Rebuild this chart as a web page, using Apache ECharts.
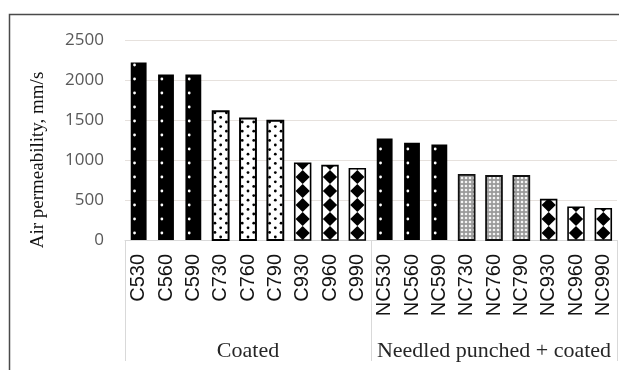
<!DOCTYPE html>
<html>
<head>
<meta charset="utf-8">
<script src="https://cdn.jsdelivr.net/npm/echarts@6/dist/echarts.min.js"></script>
<style>
  html, body { margin: 0; padding: 0; background: #fff; }
  #chart { width: 619px; height: 370px; }
</style>
</head>
<body>
<div id="chart"></div>
<script>
// Sample names and measured air permeability (mm/s)
const categories = ['C530', 'C560', 'C590', 'C730', 'C760', 'C790', 'C930', 'C960', 'C990',
                    'NC530', 'NC560', 'NC590', 'NC730', 'NC760', 'NC790', 'NC930', 'NC960', 'NC990'];
const permeability = [2220, 2070, 2070, 1610, 1520, 1490, 960, 930, 890,
                      1270, 1215, 1195, 815, 800, 800, 505, 410, 390];
const groups = ['Coated', 'Needled punched + coated'];
const yMin = 0, yMax = 2500, yStep = 500;

// Fill style per sample: solid (x30), dotted (x60 coated), fine (x60 needled), diamond (x90)
function fillKind(i) {
  const sub = Math.floor((i % 9) / 3);
  if (sub === 0) return 'solid';
  if (sub === 2) return 'diamond';
  return i < 9 ? 'dots' : 'fine';
}

// Fine speckled texture for the needled x60 bars
const fineCanvas = document.createElement('canvas');
fineCanvas.width = 4; fineCanvas.height = 4;
(function () {
  const c = fineCanvas.getContext('2d');
  c.fillStyle = '#9a9a9a'; c.fillRect(0, 0, 4, 4);
  c.fillStyle = '#f4f4f4';
  c.beginPath(); c.arc(2, 2, 1.3, 0, Math.PI * 2); c.fill();
})();

function renderBar(params, api) {
  const i = api.value(0);
  const v = api.value(1);
  const top = api.coord([i, v]);
  const base = api.coord([i, 0]);
  const bw = api.size([1, 0])[0] * 0.58;
  const x0 = top[0] - bw / 2, x1 = top[0] + bw / 2;
  const y0 = top[1], y1 = base[1];
  const h = y1 - y0;
  const cx = top[0];
  const kind = fillKind(i);
  const children = [];
  const clip = { type: 'rect', shape: { x: x0, y: y0, width: bw, height: h } };

  if (kind === 'solid') {
    children.push({ type: 'rect', shape: { x: x0, y: y0, width: bw, height: h }, style: { fill: '#000' } });
    for (let y = y1 - 7; y > y0 + 2; y -= 14) {
      children.push({ type: 'circle', shape: { cx: x0 + 3.8, cy: y, r: 1.4 }, style: { fill: '#fff' } });
    }
  } else if (kind === 'dots') {
    children.push({ type: 'rect', shape: { x: x0, y: y0, width: bw, height: h }, style: { fill: '#fff' } });
    let row = 0;
    for (let y = y1 - 3; y > y0 + 1; y -= 4.6, row++) {
      if (row % 2 === 0) {
        children.push({ type: 'circle', shape: { cx: cx, cy: y, r: 1.4 }, style: { fill: '#000' } });
      } else {
        children.push({ type: 'circle', shape: { cx: x0 + 2.2, cy: y, r: 1.4 }, style: { fill: '#000' } });
        children.push({ type: 'circle', shape: { cx: x1 - 2.2, cy: y, r: 1.4 }, style: { fill: '#000' } });
      }
    }
    children.push({ type: 'rect', shape: { x: x0, y: y0, width: bw, height: h }, style: { fill: 'none', stroke: '#000', lineWidth: 2 } });
  } else if (kind === 'fine') {
    children.push({ type: 'rect', shape: { x: x0, y: y0, width: bw, height: h }, style: { fill: { image: fineCanvas, repeat: 'repeat' } } });
    children.push({ type: 'rect', shape: { x: x0, y: y0, width: bw, height: h }, style: { fill: 'none', stroke: '#111', lineWidth: 1.8 } });
  } else {
    children.push({ type: 'rect', shape: { x: x0, y: y0, width: bw, height: h }, style: { fill: '#fff' } });
    const hw = bw / 2 - 0.8, hh = 7;
    const diamonds = [];
    for (let y = y1 - hh; y > y0 - hh; y -= 2 * hh) {
      diamonds.push({
        type: 'polygon',
        shape: { points: [[cx, y - hh], [cx + hw, y], [cx, y + hh], [cx - hw, y]] },
        style: { fill: '#000' }
      });
    }
    children.push({ type: 'group', children: diamonds, clipPath: clip });
    children.push({ type: 'rect', shape: { x: x0, y: y0, width: bw, height: h }, style: { fill: 'none', stroke: '#000', lineWidth: 1.6 } });
  }
  return { type: 'group', children: children };
}

const chart = echarts.init(document.getElementById('chart'), null, { renderer: 'canvas' });

chart.setOption({
  animation: false,
  backgroundColor: '#fff',
  grid: { left: 125, right: 2, top: 40, bottom: 130, containLabel: false },
  graphic: [
    {
      type: 'rect', left: 7, top: 12, z: -10, silent: true,
      shape: { x: 0, y: 0, width: 660, height: 420 },
      style: { fill: 'none', stroke: '#4a4a4a', lineWidth: 1.5 }
    },
    {
      type: 'text', x: 38, y: 160, rotation: Math.PI / 2,
      style: {
        text: 'Air permeability, mm/s',
        font: '19px "Liberation Serif"',
        fill: '#111',
        textAlign: 'center', textVerticalAlign: 'middle',
        align: 'center', verticalAlign: 'middle'
      }
    }
  ],
  xAxis: [
    {
      type: 'category',
      data: categories,
      boundaryGap: true,
      axisLine: { show: true, lineStyle: { color: '#d9d9d9', width: 1 } },
      axisTick: { show: false },
      axisLabel: {
        rotate: 90, margin: 14, interval: 0,
        fontFamily: 'Liberation Sans', fontSize: 20, color: '#141414'
      },
      splitLine: { show: false }
    },
    {
      type: 'category',
      data: groups,
      position: 'bottom',
      boundaryGap: true,
      axisLine: { show: false },
      axisTick: { show: true, length: 121, lineStyle: { color: '#d9d9d9', width: 1 } },
      axisLabel: {
        margin: 100, interval: 0,
        fontFamily: 'Liberation Serif', fontSize: 22, color: '#262626'
      },
      splitLine: { show: false }
    }
  ],
  yAxis: {
    type: 'value',
    min: yMin, max: yMax, interval: yStep,
    axisLine: { show: false },
    axisTick: { show: false },
    axisLabel: {
      margin: 21, fontFamily: 'Open Sans', fontSize: 17, color: '#595959',
      formatter: (v) => String(v)
    },
    splitLine: { show: true, lineStyle: { color: '#e6e1dd', width: 1 } }
  },
  series: [
    {
      type: 'custom',
      xAxisIndex: 0,
      renderItem: renderBar,
      encode: { x: 0, y: 1 },
      data: permeability.map((v, i) => [i, v])
    }
  ]
});
</script>
</body>
</html>
